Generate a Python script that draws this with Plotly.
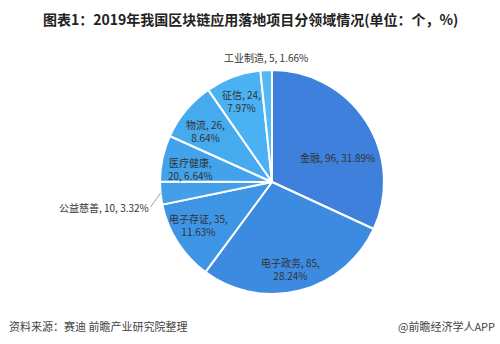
import math
import plotly.graph_objects as go

# Blockchain application projects by field, 2019
categories = ["金融", "电子政务", "电子存证", "公益慈善", "医疗健康", "物流", "征信", "工业制造"]
counts = [96, 85, 35, 10, 20, 26, 24, 5]
shares = [31.89, 28.24, 11.63, 3.32, 6.64, 8.64, 7.97, 1.66]
colors = ["#3E80DB", "#3C8BE1", "#3E95E6", "#449FE9", "#42A3EC", "#46AAEF", "#4AB1F2", "#55BAF4"]

# label layout per slice: where the line wraps, where the label sits,
# its distance from the centre (fraction of radius) and a small angular nudge (deg)
wraps = ["none", "pct", "pct", "none", "name", "pct", "pct", "none"]
placement = ["inside", "inside", "inside", "leader", "inside", "inside", "inside", "above"]
label_radius = [0.62, 0.795, 0.76, 1.0, 0.74, 0.75, 0.77, 1.0]
label_turn = [12.3, 2.1, 2.4, 0.0, -3.2, -2.4, -0.7, 0.0]

W, H = 500, 344
dom_x = [0.32, 0.768]
dom_y = [0.145, 0.797]
LABEL_FONT = dict(size=10, color="#333333", family="Noto Sans CJK SC")


def label_text(name, n, pct, wrap):
    sep1 = "<br>" if wrap == "name" else " "
    sep2 = "<br>" if wrap == "pct" else " "
    return f"{name},{sep1}{n},{sep2}{pct:.2f}%"


fig = go.Figure(go.Pie(
    labels=categories,
    values=counts,
    textinfo="none",
    sort=False,
    direction="clockwise",
    rotation=0,
    marker=dict(colors=colors, line=dict(color="white", width=2)),
    showlegend=False,
    domain=dict(x=dom_x, y=dom_y),
))

# pie geometry in pixels, so labels follow each slice's mid-angle
cx = (dom_x[0] + dom_x[1]) / 2 * W
cy = (dom_y[0] + dom_y[1]) / 2 * H
radius = min((dom_x[1] - dom_x[0]) * W, (dom_y[1] - dom_y[0]) * H) / 2
total = sum(counts)

annotations = []
cum = 0
for name, n, pct, wrap, place, k, turn in zip(categories, counts, shares, wraps,
                                             placement, label_radius, label_turn):
    mid = (cum + n / 2) / total * 2 * math.pi + math.radians(turn)
    cum += n
    txt = label_text(name, n, pct, wrap)
    px = cx + k * radius * math.sin(mid)
    py = cy + k * radius * math.cos(mid)
    if place == "inside":
        annotations.append(dict(
            text=txt, x=px / W, y=py / H, xref="paper", yref="paper",
            showarrow=False, xanchor="center", yanchor="middle", font=LABEL_FONT,
        ))
    elif place == "above":
        annotations.append(dict(
            text=txt, x=px / W, y=(py + 3) / H, xref="paper", yref="paper",
            showarrow=False, xanchor="center", yanchor="bottom", font=LABEL_FONT,
        ))
    else:
        annotations.append(dict(
            text=txt, x=px / W, y=py / H, xref="paper", yref="paper",
            showarrow=True, arrowhead=0, arrowwidth=0.8, arrowcolor="#8a8a8a",
            ax=-10, ay=14, xanchor="right", yanchor="middle", font=LABEL_FONT,
        ))

annotations += [
    dict(text="<b>图表1：2019年我国区块链应用落地项目分领域情况(单位：个，%)</b>",
         x=0.5, y=1 - 19 / H, xref="paper", yref="paper", showarrow=False,
         font=dict(size=14, color="#222222"), xanchor="center", yanchor="middle"),
    dict(text="资料来源：赛迪 前瞻产业研究院整理",
         x=7 / W, y=1 - 326 / H, xref="paper", yref="paper", showarrow=False,
         font=dict(size=11, color="#444444"), xanchor="left", yanchor="middle"),
    dict(text="@前瞻经济学人APP",
         x=497 / W, y=1 - 326 / H, xref="paper", yref="paper", showarrow=False,
         font=dict(size=11, color="#444444"), xanchor="right", yanchor="middle"),
]

fig.update_layout(
    width=W, height=H,
    margin=dict(l=0, r=0, t=0, b=0),
    paper_bgcolor="white",
    plot_bgcolor="white",
    font=dict(family="Noto Sans CJK SC"),
    annotations=annotations,
)

fig.write_html("out.html")
